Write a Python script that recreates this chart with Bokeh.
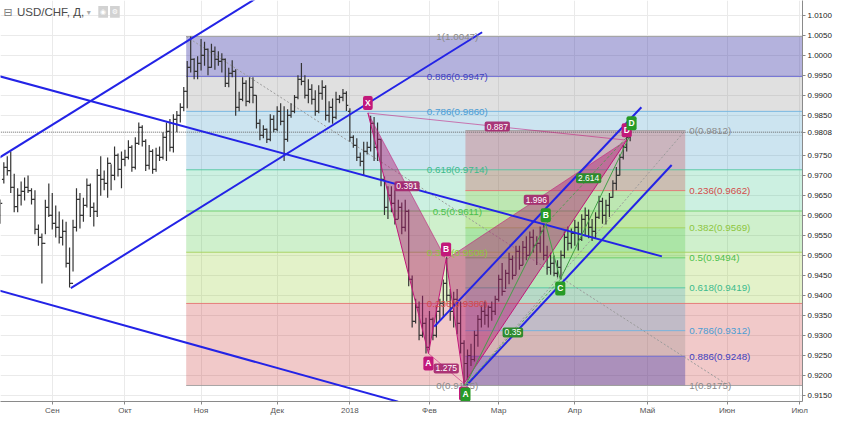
from bokeh.plotting import figure
from bokeh.models import Range1d, FixedTicker, ColumnDataSource, PrintfTickFormatter
from bokeh.core.properties import value
from bokeh.embed import file_html
from bokeh.resources import INLINE

# ---------------- data: daily USD/CHF bars (bar index 0 = 11 Aug 2017) ----------------
bar_high = [
    # Aug 2017
    0.9640, 0.9733, 0.9748, 0.9760, 0.9704, 0.9668, 0.9685, 0.9695, 0.9700, 0.9668,
    0.9663, 0.9577, 0.9555, 0.9639, 0.9680,
    # Sep
    0.9656, 0.9625, 0.9610, 0.9590, 0.9584, 0.9520, 0.9589, 0.9668, 0.9656, 0.9644,
    0.9692, 0.9680, 0.9632, 0.9716, 0.9748, 0.9712, 0.9745, 0.9728, 0.9772, 0.9755,
    0.9760,
    # Oct
    0.9764, 0.9788, 0.9775, 0.9795, 0.9832, 0.9825, 0.9790, 0.9776, 0.9765, 0.9769,
    0.9772, 0.9808, 0.9832, 0.9841, 0.9853, 0.9861, 0.9880, 0.9921, 0.9986, 1.0047,
    0.9993, 0.9998,
    # Nov
    1.0041, 1.0034, 1.0017, 1.0029, 1.0022, 1.0010, 1.0005, 0.9992, 0.9969, 0.9988,
    0.9965, 0.9909, 0.9945, 0.9938, 0.9945, 0.9945, 0.9900, 0.9840, 0.9825, 0.9817,
    0.9853, 0.9850,
    # Dec
    0.9873, 0.9880, 0.9873, 0.9865, 0.9880, 0.9901, 0.9950, 0.9981, 0.9950, 0.9940,
    0.9928, 0.9913, 0.9925, 0.9938, 0.9925, 0.9885, 0.9892, 0.9909, 0.9901, 0.9916,
    0.9910,
    # Jan 2018
    0.9868, 0.9800, 0.9793, 0.9757, 0.9784, 0.9784, 0.9849, 0.9846, 0.9832, 0.9790,
    0.9697, 0.9673, 0.9673, 0.9663, 0.9639, 0.9632, 0.9639, 0.9615, 0.9450, 0.9392,
    0.9385, 0.9399, 0.9344,
    # Feb
    0.9361, 0.9345, 0.9375, 0.9392, 0.9440, 0.9497, 0.9416, 0.9409, 0.9416, 0.9385,
    0.9288, 0.9265, 0.9279, 0.9312, 0.9351, 0.9375, 0.9385, 0.9375, 0.9385, 0.9399,
    # Mar
    0.9452, 0.9481, 0.9464, 0.9507, 0.9500, 0.9524, 0.9524, 0.9536, 0.9548, 0.9560,
    0.9565, 0.9548, 0.9572, 0.9579, 0.9524, 0.9507, 0.9500, 0.9488, 0.9512, 0.9560,
    0.9572, 0.9567,
    # Apr
    0.9589, 0.9584, 0.9603, 0.9620, 0.9615, 0.9591, 0.9608, 0.9649, 0.9644, 0.9639,
    0.9656, 0.9688, 0.9721, 0.9752, 0.9776, 0.9805, 0.9812,
]
bar_low = [
    # Aug 2017
    0.9579, 0.9680, 0.9700, 0.9656, 0.9608, 0.9608, 0.9625, 0.9637, 0.9656, 0.9627,
    0.9553, 0.9524, 0.9430, 0.9553, 0.9596,
    # Sep
    0.9565, 0.9545, 0.9530, 0.9525, 0.9470, 0.9420, 0.9460, 0.9560, 0.9567, 0.9584,
    0.9620, 0.9596, 0.9572, 0.9596, 0.9649, 0.9663, 0.9644, 0.9663, 0.9688, 0.9697,
    0.9668,
    # Oct
    0.9723, 0.9740, 0.9709, 0.9715, 0.9776, 0.9772, 0.9711, 0.9715, 0.9704, 0.9709,
    0.9736, 0.9740, 0.9736, 0.9760, 0.9757, 0.9808, 0.9832, 0.9860, 0.9868, 0.9957,
    0.9940, 0.9940,
    # Nov
    0.9962, 0.9974, 0.9950, 0.9969, 0.9964, 0.9974, 0.9957, 0.9921, 0.9920, 0.9945,
    0.9849, 0.9860, 0.9885, 0.9873, 0.9880, 0.9880, 0.9817, 0.9788, 0.9793, 0.9781,
    0.9785, 0.9808,
    # Dec
    0.9810, 0.9825, 0.9736, 0.9784, 0.9844, 0.9855, 0.9890, 0.9925, 0.9892, 0.9880,
    0.9877, 0.9849, 0.9855, 0.9889, 0.9837, 0.9832, 0.9829, 0.9840, 0.9880, 0.9885,
    0.9861,
    # Jan 2018
    0.9784, 0.9769, 0.9736, 0.9723, 0.9700, 0.9752, 0.9760, 0.9736, 0.9736, 0.9673,
    0.9601, 0.9591, 0.9608, 0.9577, 0.9591, 0.9553, 0.9560, 0.9423, 0.9320, 0.9330,
    0.9288, 0.9295, 0.9255,
    # Feb
    0.9264, 0.9288, 0.9295, 0.9337, 0.9344, 0.9385, 0.9337, 0.9320, 0.9303, 0.9255,
    0.9175, 0.9190, 0.9224, 0.9235, 0.9272, 0.9320, 0.9327, 0.9320, 0.9337, 0.9351,
    # Mar
    0.9385, 0.9399, 0.9416, 0.9428, 0.9440, 0.9452, 0.9464, 0.9476, 0.9488, 0.9500,
    0.9507, 0.9476, 0.9507, 0.9488, 0.9452, 0.9452, 0.9448, 0.9445, 0.9440, 0.9493,
    0.9512, 0.9517,
    # Apr
    0.9524, 0.9512, 0.9536, 0.9548, 0.9543, 0.9536, 0.9543, 0.9591, 0.9579, 0.9577,
    0.9596, 0.9644, 0.9663, 0.9700, 0.9740, 0.9760, 0.9785,
]
bar_open = [
    # Aug 2017
    0.9600, 0.9690, 0.9720, 0.9712, 0.9670, 0.9622, 0.9650, 0.9660, 0.9670, 0.9662,
    0.9640, 0.9565, 0.9545, 0.9530, 0.9620,
    # Sep
    0.9600, 0.9580, 0.9570, 0.9545, 0.9560, 0.9480, 0.9430, 0.9570, 0.9640, 0.9600,
    0.9625, 0.9675, 0.9620, 0.9610, 0.9700, 0.9690, 0.9680, 0.9730, 0.9700, 0.9750,
    0.9715,
    # Oct
    0.9740, 0.9745, 0.9770, 0.9720, 0.9780, 0.9820, 0.9785, 0.9725, 0.9760, 0.9715,
    0.9750, 0.9745, 0.9795, 0.9810, 0.9770, 0.9840, 0.9850, 0.9870, 0.9910, 0.9970,
    0.9990, 0.9960,
    # Nov
    0.9980, 1.0000, 1.0015, 0.9970, 1.0010, 0.9990, 0.9985, 0.9990, 0.9930, 0.9955,
    0.9960, 0.9870, 0.9890, 0.9930, 0.9885, 0.9920, 0.9900, 0.9830, 0.9800, 0.9815,
    0.9790, 0.9840,
    # Dec
    0.9815, 0.9860, 0.9835, 0.9790, 0.9850, 0.9860, 0.9895, 0.9940, 0.9935, 0.9900,
    0.9915, 0.9890, 0.9860, 0.9905, 0.9920, 0.9850, 0.9870, 0.9845, 0.9890, 0.9895,
    0.9905,
    # Jan 2018
    0.9860, 0.9795, 0.9775, 0.9745, 0.9735, 0.9760, 0.9770, 0.9830, 0.9770, 0.9790,
    0.9690, 0.9620, 0.9650, 0.9630, 0.9590, 0.9620, 0.9570, 0.9610, 0.9440, 0.9335,
    0.9370, 0.9300, 0.9330,
    # Feb
    0.9270, 0.9340, 0.9300, 0.9360, 0.9380, 0.9430, 0.9400, 0.9360, 0.9390, 0.9330,
    0.9280, 0.9230, 0.9250, 0.9240, 0.9300, 0.9340, 0.9360, 0.9350, 0.9370, 0.9360,
    # Mar
    0.9390, 0.9440, 0.9410, 0.9455, 0.9490, 0.9450, 0.9510, 0.9475, 0.9520, 0.9500,
    0.9545, 0.9525, 0.9530, 0.9560, 0.9500, 0.9470, 0.9480, 0.9455, 0.9470, 0.9500,
    0.9545, 0.9530,
    # Apr
    0.9555, 0.9570, 0.9540, 0.9590, 0.9600, 0.9570, 0.9560, 0.9595, 0.9635, 0.9600,
    0.9625, 0.9645, 0.9680, 0.9700, 0.9745, 0.9770, 0.9795,
]
bar_close = [
    # Aug 2017
    0.9630, 0.9720, 0.9712, 0.9670, 0.9622, 0.9650, 0.9660, 0.9670, 0.9662, 0.9640,
    0.9565, 0.9545, 0.9530, 0.9620, 0.9600,
    # Sep
    0.9580, 0.9570, 0.9545, 0.9560, 0.9480, 0.9430, 0.9570, 0.9640, 0.9600, 0.9625,
    0.9675, 0.9620, 0.9610, 0.9700, 0.9690, 0.9680, 0.9730, 0.9700, 0.9750, 0.9715,
    0.9740,
    # Oct
    0.9745, 0.9770, 0.9720, 0.9780, 0.9820, 0.9785, 0.9725, 0.9760, 0.9715, 0.9750,
    0.9745, 0.9795, 0.9810, 0.9770, 0.9840, 0.9850, 0.9870, 0.9910, 0.9970, 0.9990,
    0.9960, 0.9980,
    # Nov
    1.0000, 1.0015, 0.9970, 1.0010, 0.9990, 0.9985, 0.9990, 0.9930, 0.9955, 0.9960,
    0.9870, 0.9890, 0.9930, 0.9885, 0.9920, 0.9900, 0.9830, 0.9800, 0.9815, 0.9790,
    0.9840, 0.9815,
    # Dec
    0.9860, 0.9835, 0.9790, 0.9850, 0.9860, 0.9895, 0.9940, 0.9935, 0.9900, 0.9915,
    0.9890, 0.9860, 0.9905, 0.9920, 0.9850, 0.9870, 0.9845, 0.9890, 0.9895, 0.9905,
    0.9875,
    # Jan 2018
    0.9795, 0.9775, 0.9745, 0.9735, 0.9760, 0.9770, 0.9830, 0.9770, 0.9790, 0.9690,
    0.9620, 0.9650, 0.9630, 0.9590, 0.9620, 0.9570, 0.9610, 0.9440, 0.9335, 0.9370,
    0.9300, 0.9330, 0.9270,
    # Feb
    0.9340, 0.9300, 0.9360, 0.9380, 0.9430, 0.9400, 0.9360, 0.9390, 0.9330, 0.9280,
    0.9230, 0.9250, 0.9240, 0.9300, 0.9340, 0.9360, 0.9350, 0.9370, 0.9360, 0.9390,
    # Mar
    0.9440, 0.9410, 0.9455, 0.9490, 0.9450, 0.9510, 0.9475, 0.9520, 0.9500, 0.9545,
    0.9525, 0.9530, 0.9560, 0.9500, 0.9470, 0.9480, 0.9455, 0.9470, 0.9500, 0.9545,
    0.9530, 0.9555,
    # Apr
    0.9570, 0.9540, 0.9590, 0.9600, 0.9570, 0.9560, 0.9595, 0.9635, 0.9600, 0.9625,
    0.9645, 0.9680, 0.9700, 0.9745, 0.9770, 0.9795, 0.9808,
]

month_ticks = [15, 36, 58, 80, 101, 124, 144, 166, 187, 210, 231]
month_labels = ["Сен", "Окт", "Ноя", "Дек", "2018", "Фев", "Мар", "Апр", "Май", "Июн", "Июл"]
price_ticks = [0.915, 0.920, 0.925, 0.930, 0.935, 0.940, 0.945, 0.950, 0.955, 0.960,
               0.965, 0.970, 0.975, 0.980, 0.985, 0.990, 0.995, 1.000, 1.005, 1.010]

fib_levels = ["0", "0.236", "0.382", "0.5", "0.618", "0.786", "0.886", "1"]
big_fib_prices = [0.9175, 0.9380, 0.9508, 0.9611, 0.9714, 0.9860, 0.9947, 1.0047]
big_fib_span = [53.7, 210.4]
right_fib_prices = [0.9812, 0.9662, 0.9569, 0.9494, 0.9419, 0.9312, 0.9248, 0.9175]
right_fib_span = [134.4, 197.9]

# trend lines (bar index, price) endpoints
trend_x0 = [-5.61, 20.36, -5.61, -5.61, 125.39, 134.71]
trend_y0 = [0.97159, 0.94183, 0.99603, 0.94248, 0.93221, 0.91755]
trend_x1 = [76.27, 139.22, 191.17, 114.94, 185.24, 193.99]
trend_y1 = [1.01550, 1.00577, 0.94976, 0.91346, 0.98702, 0.97260]

# harmonic pattern XABCD (pink) and ABCD (green)
pink_names = ["X", "A", "B", "C", "D"]
pink_idx = [106.2, 123.7, 128.8, 134.0, 181.0]
pink_price = [0.9856, 0.9255, 0.9490, 0.9180, 0.9788]
pink_side = [-1, 1, -1, 1, -1]
pink_ratio_pairs = [(0, 2), (1, 3), (2, 4), (0, 4)]
pink_ratios = ["0.391", "1.275", "1.996", "0.887"]

green_names = ["A", "B", "C", "D"]
green_idx = [134.4, 157.6, 161.8, 182.4]
green_price = [0.9175, 0.9578, 0.9440, 0.9808]
green_side = [1, -1, 1, -1]
green_ratio_pairs = [(0, 2), (1, 3)]
green_ratios = ["0.35", "2.614"]

last_close = bar_close[-1]

# ---------------- styling ----------------
view_x = (0.04, 231.8)
view_y = (0.9135, 1.0137)
FONT = value("Liberation Sans")

band_colors = ["#c82828", "#8fcb27", "#3fc333", "#33c387", "#3393c3", "#838383", "#3934a5"]
band_alphas = [0.25, 0.25, 0.25, 0.25, 0.25, 0.25, 0.38]
level_line_colors = ["#9e9e9e", "#e57373", "#a5d15c", "#66cc66", "#4fc7a0", "#6fb3e0", "#6a6ad4", "#9e9e9e"]
level_text_colors = ["#8a8a8a", "#d24b4b", "#8dc63f", "#4cbf4c", "#3cba8c", "#4b9cd3", "#3f3fc0", "#8a8a8a"]

p = figure(width=834, height=417, x_range=Range1d(*view_x), y_range=Range1d(*view_y),
           y_axis_location="right", output_backend="svg", toolbar_location=None,
           min_border_left=0, min_border_top=0, min_border_right=0, min_border_bottom=0)
p.outline_line_color = None
p.background_fill_color = "white"
p.border_fill_color = "white"

# grid
p.xgrid.ticker = FixedTicker(ticks=month_ticks)
p.ygrid.ticker = FixedTicker(ticks=price_ticks)
p.xgrid.grid_line_color = "#eaeaea"
p.ygrid.grid_line_color = "#eaeaea"

# axes (the last price is shown on the price scale instead of the nearby 0.9800 tick)
p.xaxis.ticker = FixedTicker(ticks=month_ticks)
p.xaxis.major_label_overrides = {t: lab for t, lab in zip(month_ticks, month_labels)}
axis_ticks = sorted([t for t in price_ticks if abs(t - last_close) > 0.003] + [last_close])
p.yaxis.ticker = FixedTicker(ticks=axis_ticks)
p.yaxis.formatter = PrintfTickFormatter(format="%.4f")
for ax in (p.xaxis[0], p.yaxis[0]):
    ax.axis_line_color = "#8a8a8a"
    ax.major_tick_line_color = "#8a8a8a"
    ax.minor_tick_line_color = None
    ax.major_tick_out = 3
    ax.major_tick_in = 0
    ax.major_label_text_font = "Liberation Sans"
    ax.major_label_text_font_size = "8px"
    ax.major_label_standoff = 2
    ax.axis_label_standoff = 0
p.xaxis.major_label_standoff = 1
p.xaxis.major_label_text_color = "#555555"
p.yaxis.major_label_text_color = "#222222"

# ---- big Fibonacci retracement (extended right)
nb = len(big_fib_prices) - 1
p.quad(left=[big_fib_span[0]] * nb, right=[view_x[1] + 5] * nb,
       bottom=big_fib_prices[:-1], top=big_fib_prices[1:],
       fill_color=band_colors, fill_alpha=band_alphas, line_color=None)
# ---- right Fibonacci retracement
p.quad(left=[right_fib_span[0]] * nb, right=[right_fib_span[1]] * nb,
       bottom=right_fib_prices[1:], top=right_fib_prices[:-1],
       fill_color=band_colors, fill_alpha=band_alphas, line_color=None)

nl = len(fib_levels)
p.segment(x0=[big_fib_span[0]] * nl, x1=[view_x[1] + 5] * nl, y0=big_fib_prices, y1=big_fib_prices,
          line_color=level_line_colors, line_width=1, line_alpha=0.9)
p.segment(x0=[right_fib_span[0]] * nl, x1=[right_fib_span[1]] * nl, y0=right_fib_prices, y1=right_fib_prices,
          line_color=level_line_colors, line_width=1, line_alpha=0.9)

# fib diagonal trend lines (dotted)
p.segment(x0=[big_fib_span[0], right_fib_span[0]], y0=[big_fib_prices[-1], right_fib_prices[-1]],
          x1=[big_fib_span[1], right_fib_span[1]], y1=[big_fib_prices[0], right_fib_prices[0]],
          line_color="#9a9a9a", line_width=1, line_dash="2 2")

# current price line
p.segment(x0=[view_x[0] - 5], x1=[view_x[1] + 5], y0=[last_close], y1=[last_close],
          line_color="#666666", line_width=1, line_dash="1 1")

# ---- OHLC bars
idx = list(range(len(bar_high)))
src = ColumnDataSource(dict(idx=idx, hi=bar_high, lo=bar_low, op=bar_open, cl=bar_close,
                            ox=[i - 0.55 for i in idx], cx=[i + 0.55 for i in idx]))
p.segment(x0="idx", y0="lo", x1="idx", y1="hi", source=src, line_color="#333333", line_width=1.2)
p.segment(x0="ox", y0="op", x1="idx", y1="op", source=src, line_color="#333333", line_width=1.2)
p.segment(x0="idx", y0="cl", x1="cx", y1="cl", source=src, line_color="#333333", line_width=1.2)

# ---- pink XABCD pattern
p.patch(pink_idx[0:3], pink_price[0:3], fill_color="#b0186e", fill_alpha=0.45, line_color=None)
p.patch(pink_idx[2:5], pink_price[2:5], fill_color="#b0186e", fill_alpha=0.45, line_color=None)
p.line(pink_idx, pink_price, line_color="#c2187a", line_width=1)
p.segment(x0=[pink_idx[a] for a, b in pink_ratio_pairs], y0=[pink_price[a] for a, b in pink_ratio_pairs],
          x1=[pink_idx[b] for a, b in pink_ratio_pairs], y1=[pink_price[b] for a, b in pink_ratio_pairs],
          line_color="#c2187a", line_alpha=0.55, line_width=1)

# ---- blue trend lines
p.segment(x0=trend_x0, y0=trend_y0, x1=trend_x1, y1=trend_y1, line_color="#2323e6", line_width=2)

# ---- green ABCD pattern
p.line(green_idx, green_price, line_color="#43a047", line_width=1)
p.segment(x0=[green_idx[a] for a, b in green_ratio_pairs], y0=[green_price[a] for a, b in green_ratio_pairs],
          x1=[green_idx[b] for a, b in green_ratio_pairs], y1=[green_price[b] for a, b in green_ratio_pairs],
          line_color="#43a047", line_width=1, line_dash="3 2", line_alpha=0.8)

# ---- fib labels
big_labels = [f"{lv}({pr:.4f})" for lv, pr in zip(fib_levels, big_fib_prices)]
p.text(x=[(big_fib_span[0] + big_fib_span[1]) / 2] * nl, y=big_fib_prices, text=big_labels,
       text_color=level_text_colors, text_font=FONT, text_font_size="9.8px",
       text_align="center", text_baseline="middle")
right_labels = [f"{lv}({pr:.4f})" for lv, pr in zip(fib_levels, right_fib_prices)]
p.text(x=[right_fib_span[1] + 1.2] * nl, y=right_fib_prices, text=right_labels,
       text_color=level_text_colors, text_font=FONT, text_font_size="9.8px",
       text_align="left", text_baseline="middle")

# ---- pattern labels
def mids(xs, ys, pairs):
    return ([(xs[a] + xs[b]) / 2 for a, b in pairs], [(ys[a] + ys[b]) / 2 for a, b in pairs])

mx, my = mids(pink_idx, pink_price, pink_ratio_pairs)
p.text(x=mx, y=my, text=pink_ratios, text_color="white", text_font=FONT, text_font_size="8.5px",
       text_align="center", text_baseline="middle",
       background_fill_color="#a3236c", background_fill_alpha=0.9, padding=2, border_radius=2)
p.text(x=pink_idx, y=pink_price, text=pink_names, y_offset=[s * 10 for s in pink_side],
       text_color="white", text_font=FONT, text_font_size="8.5px", text_font_style="bold",
       text_align="center", text_baseline="middle",
       background_fill_color="#c2187a", padding=2, border_radius=2)

gx, gy = mids(green_idx, green_price, green_ratio_pairs)
p.text(x=gx, y=gy, text=green_ratios, text_color="white", text_font=FONT, text_font_size="8.5px",
       text_align="center", text_baseline="middle",
       background_fill_color="#2e8b2e", padding=2, border_radius=2)
p.text(x=green_idx, y=green_price, text=green_names, y_offset=[s * 9 for s in green_side],
       text_color="white", text_font=FONT, text_font_size="8.5px", text_font_style="bold",
       text_align="center", text_baseline="middle",
       background_fill_color="#279b27", padding=2, border_radius=2)

# ---- header
p.text(x=[0.9], y=[1.0108], text=["⊟"], text_font=value("DejaVu Sans"), text_font_size="11px",
       text_color="#7a7a7a", text_baseline="middle", text_align="left")
p.text(x=[4.8], y=[1.0108], text=["USD/CHF, Д,"], text_font=FONT, text_font_size="11.5px",
       text_color="#4a4a4a", text_baseline="middle", text_align="left")
p.text(x=[25.0], y=[1.0108], text=["▾"], text_font=value("DejaVu Sans"), text_font_size="8px",
       text_color="#aaaaaa", text_baseline="middle", text_align="left")
p.quad(left=[28.3, 31.7], right=[31.1, 34.5], bottom=[1.0094, 1.0094], top=[1.0123, 1.0123],
       fill_color="#d2d2d2", line_color=None)
p.text(x=[29.7, 33.1], y=[1.01085, 1.01085], text=["◉", "⚙"], text_font=value("DejaVu Sans"),
       text_font_size="7px", text_color="white", text_align="center", text_baseline="middle")

open("out.html", "w").write(file_html(p, INLINE))
